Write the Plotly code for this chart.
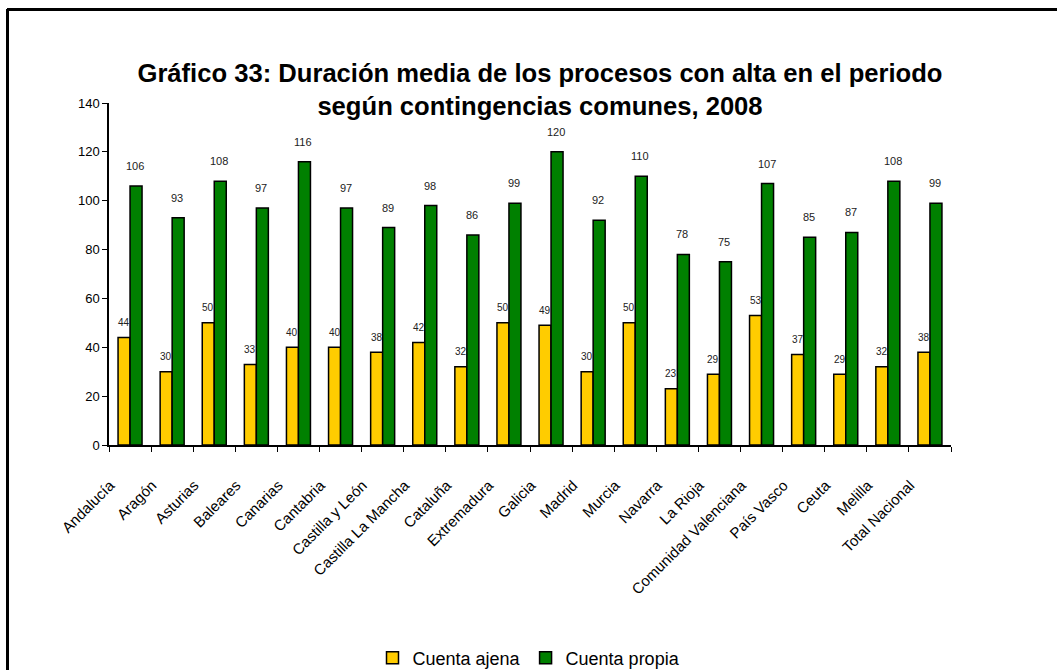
import plotly.graph_objects as go

categories = ["Andalucía", "Aragón", "Asturias", "Baleares", "Canarias", "Cantabria",
              "Castilla y León", "Castilla La Mancha", "Cataluña", "Extremadura", "Galicia",
              "Madrid", "Murcia", "Navarra", "La Rioja", "Comunidad Valenciana", "País Vasco",
              "Ceuta", "Melilla", "Total Nacional"]
cuenta_ajena = [44, 30, 50, 33, 40, 40, 38, 42, 32, 50, 49, 30, 50, 23, 29, 53, 37, 29, 32, 38]
cuenta_propia = [106, 93, 108, 97, 116, 97, 89, 98, 86, 99, 120, 92, 110, 78, 75, 107, 85, 87, 108, 99]
y_ticks = [0, 20, 40, 60, 80, 100, 120, 140]

FONT = "Liberation Sans, Arial, sans-serif"
W, H = 1057, 670
L, R, T, B = 109, 106, 103, 225
pw, ph = W - L - R, H - T - B

def px_x(p):
    return (p - L) / pw

def px_y(p):
    return (H - B - p) / ph

fig = go.Figure()
fig.add_trace(go.Bar(x=categories, y=cuenta_ajena, name="Cuenta ajena",
                     marker=dict(color="#FFCC00", line=dict(color="black", width=1.5))))
fig.add_trace(go.Bar(x=categories, y=cuenta_propia, name="Cuenta propia",
                     marker=dict(color="#008000", line=dict(color="black", width=1.5))))

ann = []
for c, v in zip(categories, cuenta_ajena):
    ann.append(dict(x=c, y=v, xref="x", yref="y", text=str(v), showarrow=False,
                    xshift=-6, yshift=15, font=dict(family=FONT, size=10, color="#222")))
for c, v in zip(categories, cuenta_propia):
    ann.append(dict(x=c, y=v, xref="x", yref="y", text=str(v), showarrow=False,
                    xshift=5, yshift=20, font=dict(family=FONT, size=11, color="#222")))

shapes = [
    dict(type="line", xref="paper", yref="paper", x0=px_x(7), x1=px_x(1060),
         y0=px_y(9.5), y1=px_y(9.5), line=dict(color="black", width=3)),
    dict(type="line", xref="paper", yref="paper", x0=px_x(7.5), x1=px_x(7.5),
         y0=px_y(9), y1=px_y(675), line=dict(color="black", width=3)),
]

fig.update_layout(
    width=W, height=H,
    margin=dict(l=L, r=R, t=T, b=B, autoexpand=False),
    paper_bgcolor="white", plot_bgcolor="white",
    barmode="group", bargap=0.43, bargroupgap=0,
    font=dict(family=FONT, color="black"),
    title=dict(text="Gráfico 33: Duración media de los procesos con alta en el periodo<br>según contingencias comunes, 2008",
               x=px_x(540), xanchor="center", xref="paper", y=1 - 82 / H, yanchor="middle",
               font=dict(family=FONT, size=25.6, color="black", weight="bold")),
    legend=dict(orientation="h", x=px_x(529), xanchor="center", y=px_y(658), yanchor="middle",
                font=dict(family=FONT, size=18, color="black"), itemwidth=30,
                traceorder="normal"),
    annotations=ann,
    shapes=shapes,
)
fig.update_xaxes(type="category", showline=True, linecolor="black", linewidth=1.5,
                 ticks="outside", tickson="boundaries", ticklen=5, tickcolor="black",
                 tickangle=-45, tickfont=dict(family=FONT, size=15, color="black"),
                 ticklabelshift=-20, ticklabelstandoff=24, showgrid=False)
fig.update_yaxes(range=[0, 140], tickvals=y_ticks, showline=True, linecolor="black",
                 linewidth=1.5, ticks="outside", ticklen=5, tickcolor="black",
                 tickfont=dict(family=FONT, size=13, color="black"), showgrid=False,
                 zeroline=False)

fig.write_html("out.html", config={"displayModeBar": False},
               post_script="document.body.style.margin='0';")
